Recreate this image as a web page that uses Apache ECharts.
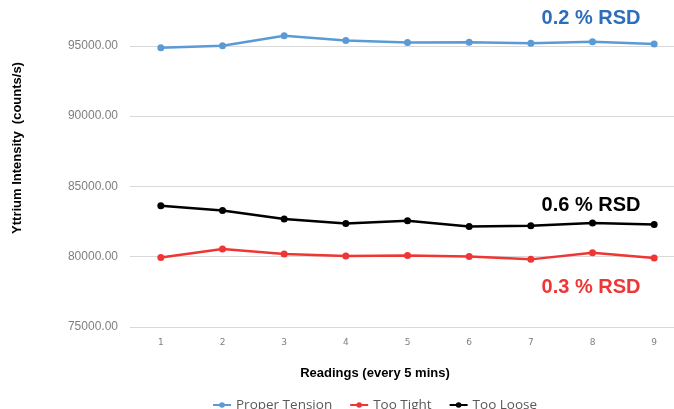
<!DOCTYPE html>
<html><head><meta charset="utf-8">
<script src="https://cdn.jsdelivr.net/npm/echarts@6/dist/echarts.min.js"></script>
<style>html,body{margin:0;padding:0;background:#fff}#c{width:674px;height:409px}</style>
</head><body><div id="c"></div>
<script>
const categories = ['1','2','3','4','5','6','7','8','9'];
const properTension = [94860, 95000, 95710, 95380, 95240, 95250, 95190, 95285, 95120];
const tooTight = [79950, 80540, 80185, 80045, 80090, 80020, 79810, 80285, 79900];
const tooLoose = [83630, 83290, 82680, 82360, 82555, 82150, 82200, 82390, 82290];
const yMin = 75000, yMax = 97500, yStep = 5000;

const chart = echarts.init(document.getElementById('c'));
const mk = (name, data, color) => ({
  name, type: 'line', data, symbol: 'circle', symbolSize: 7,
  lineStyle: {color, width: 2.5}, itemStyle: {color}, z: 3
});
chart.setOption({
  animation: false,
  grid: {left: 130, width: 555, top: 10.65, bottom: 82, outerBoundsMode: 'none', containLabel: false},
  xAxis: {
    type: 'category', data: categories, boundaryGap: true,
    axisLine: {show: false}, axisTick: {show: false},
    axisLabel: {color: '#7f7f7f', fontSize: 9, margin: 11, fontFamily: 'DejaVu Sans'}
  },
  yAxis: {
    type: 'value', min: yMin, max: yMax, interval: yStep,
    axisLine: {show: false}, axisTick: {show: false},
    axisLabel: {color: '#7f7f7f', fontSize: 12, margin: 12, fontFamily: 'Liberation Sans',
      showMaxLabel: false, formatter: v => v.toFixed(2)},
    splitLine: {showMaxLine: false, lineStyle: {color: '#d9d9d9', width: 1}}
  },
  legend: {
    top: 393, left: 207, itemWidth: 18, itemHeight: 7, itemGap: 17,
    textStyle: {color: '#595959', fontSize: 13.5, fontFamily: 'Open Sans'},
    data: ['Proper Tension', 'Too Tight', 'Too Loose']
  },
  series: [
    mk('Proper Tension', properTension, '#5B9BD5'),
    mk('Too Tight', tooTight, '#F03535'),
    mk('Too Loose', tooLoose, '#000000')
  ],
  graphic: [
    {type: 'text', x: 17, y: 148, rotation: Math.PI/2,
      style: {text: 'Yttrium Intensity  (counts/s)', fill: '#000', font: 'bold 13px "Liberation Sans", Arial', textAlign: 'center', textVerticalAlign: 'middle'}},
    {type: 'text', x: 375, y: 373,
      style: {text: 'Readings (every 5 mins)', fill: '#000', font: 'bold 13px "Liberation Sans", Arial', textAlign: 'center', textVerticalAlign: 'middle'}},
    {type: 'text', x: 591, y: 18,
      style: {text: '0.2 % RSD', fill: '#2E6DBA', font: 'bold 20px "Liberation Sans", Arial', textAlign: 'center', textVerticalAlign: 'middle'}},
    {type: 'text', x: 591, y: 205,
      style: {text: '0.6 % RSD', fill: '#000', font: 'bold 20px "Liberation Sans", Arial', textAlign: 'center', textVerticalAlign: 'middle'}},
    {type: 'text', x: 591, y: 287,
      style: {text: '0.3 % RSD', fill: '#F03535', font: 'bold 20px "Liberation Sans", Arial', textAlign: 'center', textVerticalAlign: 'middle'}}
  ]
});
</script></body></html>
